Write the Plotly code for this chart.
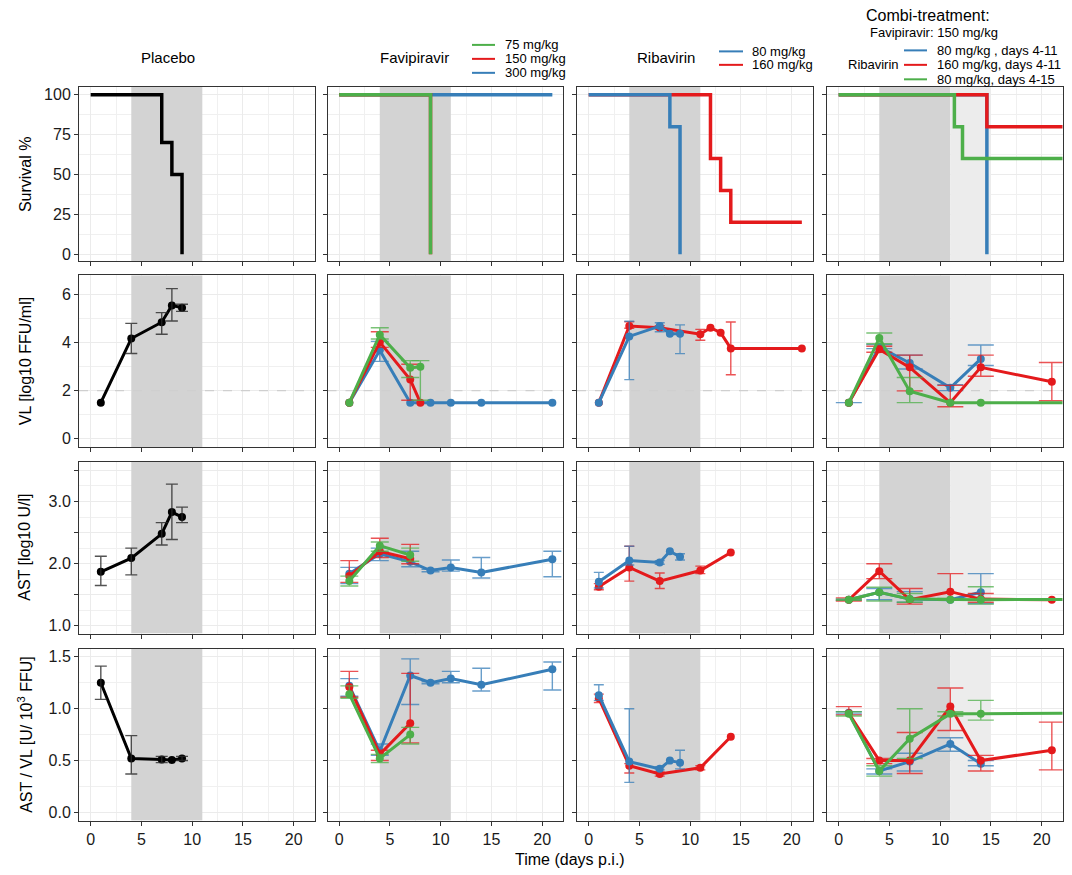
import plotly.graph_objects as go

W, H = 1072, 875
RED = "#E41A1C"
BLUE = "#377EB8"
GREEN = "#4DAF4A"
BLACK = "#000000"
FONT = "Liberation Sans, Arial, Helvetica, sans-serif"

# ---------------- DATA ----------------
# Placebo
plc_surv_days = [0, 7, 8, 9]
plc_surv = [100, 70, 50, 0]
plc_days = [1, 4, 7, 8, 9]
plc_vl = [1.5, 4.17, 4.85, 5.55, 5.45]
plc_vl_lo = [None, 3.55, 4.35, 4.9, 5.3]
plc_vl_hi = [None, 4.8, 5.25, 6.25, 5.6]
plc_ast = [1.87, 2.09, 2.48, 2.83, 2.75]
plc_ast_lo = [1.65, 1.82, 2.3, 2.39, 2.66]
plc_ast_hi = [2.12, 2.25, 2.66, 3.28, 2.91]
plc_ratio = [1.25, 0.52, 0.51, 0.505, 0.52]
plc_ratio_lo = [1.09, 0.37, 0.48, None, 0.5]
plc_ratio_hi = [1.41, 0.74, 0.54, None, 0.54]

# Favipiravir: 75 (green), 150 (red), 300 (blue) mg/kg
fav75_surv_days = [0, 9]
fav75_surv = [100, 0]
fav150_surv_days = [0, 9]
fav150_surv = [100, 0]
fav300_surv_days = [0, 21]
fav300_surv = [100, 100]

fav75_days = [1, 4, 7, 8]
fav75_vl = [1.5, 4.33, 2.95, 3.0]
fav75_vl_lo = [None, 4.15, 2.55, 1.6]
fav75_vl_hi = [None, 4.62, 3.25, 3.25]
fav75_ast_days = [1, 4, 7]
fav75_ast = [1.72, 2.29, 2.14]
fav75_ast_lo = [1.64, 2.2, 2.04]
fav75_ast_hi = [1.8, 2.35, 2.25]
fav75_ratio = [1.14, 0.52, 0.75]
fav75_ratio_lo = [1.1, 0.48, 0.66]
fav75_ratio_hi = [1.22, 0.56, 0.82]

fav150_days = [1, 4, 7, 8]
fav150_vl = [1.5, 4.02, 2.46, 1.5]
fav150_vl_lo = [None, 3.8, 1.6, None]
fav150_vl_hi = [None, 4.45, 3.1, None]
fav150_ast_days = [1, 4, 7]
fav150_ast = [1.8, 2.2, 2.08]
fav150_ast_lo = [1.7, 2.1, 2.0]
fav150_ast_hi = [2.05, 2.41, 2.31]
fav150_ratio = [1.21, 0.56, 0.86]
fav150_ratio_lo = [1.11, 0.5, 0.67]
fav150_ratio_hi = [1.36, 0.6, 1.34]

fav300_days = [1, 4, 7, 9, 11, 14, 21]
fav300_vl = [1.5, 3.68, 1.5, 1.5, 1.5, 1.5, 1.5]
fav300_vl_lo = [None, 3.22, None, None, None, None, None]
fav300_vl_hi = [None, 4.05, 2.0, None, None, None, None]
fav300_ast = [1.84, 2.16, 2.03, 1.89, 1.94, 1.86, 2.07]
fav300_ast_lo = [1.68, 2.05, 1.95, 1.87, 1.88, 1.77, 1.79]
fav300_ast_hi = [1.94, 2.25, 2.2, 1.91, 2.06, 2.1, 2.2]
fav300_ratio = [1.22, 0.59, 1.32, 1.25, 1.29, 1.23, 1.38]
fav300_ratio_lo = [1.12, 0.55, 1.04, 1.24, 1.25, 1.17, 1.18]
fav300_ratio_hi = [1.29, 0.66, 1.48, 1.26, 1.36, 1.39, 1.45]

# Ribavirin: 80 (blue), 160 (red) mg/kg
rib80_surv_days = [0, 8, 9]
rib80_surv = [100, 80, 0]
rib160_surv_days = [0, 12, 13, 14, 21]
rib160_surv = [100, 60, 40, 20, 20]

rib80_days = [1, 4, 7, 8, 9]
rib80_vl = [1.5, 4.26, 4.69, 4.37, 4.37]
rib80_vl_lo = [None, 2.46, 4.45, None, 3.54]
rib80_vl_hi = [None, 4.89, 4.83, None, 4.74]
rib80_ast = [1.71, 2.05, 2.02, 2.2, 2.11]
rib80_ast_lo = [1.61, 1.98, 1.99, None, 2.06]
rib80_ast_hi = [1.86, 2.28, 2.05, None, 2.16]
rib80_ratio = [1.13, 0.49, 0.42, 0.5, 0.48]
rib80_ratio_lo = [1.08, 0.29, 0.41, None, 0.42]
rib80_ratio_hi = [1.23, 1.0, 0.44, None, 0.6]

rib160_vl_days = [1, 4, 7, 11, 12, 13, 14, 21]
rib160_vl = [1.5, 4.69, 4.62, 4.35, 4.62, 4.41, 3.76, 3.76]
rib160_vl_lo = [None, 4.6, 4.55, 4.1, None, None, 2.66, None]
rib160_vl_hi = [None, 4.87, 4.7, 4.55, None, None, 4.86, None]
rib160_days = [1, 4, 7, 11, 14]
rib160_ast = [1.63, 1.94, 1.72, 1.89, 2.18]
rib160_ast_lo = [1.58, 1.72, 1.6, 1.84, None]
rib160_ast_hi = [1.68, 2.28, 1.85, 1.96, None]
rib160_ratio = [1.1, 0.45, 0.37, 0.43, 0.73]
rib160_ratio_lo = [1.06, 0.38, 0.35, 0.41, None]
rib160_ratio_hi = [1.14, 0.47, 0.39, 0.45, None]

# Combi-treatment (Favipiravir 150 mg/kg + Ribavirin)
cb80_surv_days = [0, 14.6]
cb80_surv = [100, 0]
cb160_surv_days = [0, 14.6, 28]
cb160_surv = [100, 80, 80]
cb80l_surv_days = [0, 11.4, 12.2, 28]
cb80l_surv = [100, 80, 60, 60]

cb80_days = [1, 4, 7, 11, 14]
cb80_vl = [1.5, 3.82, 3.15, 2.12, 3.32]
cb80_vl_lo = [1.5, 3.75, 2.9, 2.0, 3.05]
cb80_vl_hi = [1.5, 3.92, 3.48, 2.25, 3.9]
cb80_ast = [1.42, 1.54, 1.43, 1.42, 1.54]
cb80_ast_lo = [1.41, 1.42, 1.38, 1.41, 1.36]
cb80_ast_hi = [1.43, 1.6, 1.55, 1.43, 1.84]
cb80_ratio = [0.96, 0.4, 0.49, 0.66, 0.47]
cb80_ratio_lo = [0.95, 0.37, 0.4, 0.59, 0.45]
cb80_ratio_hi = [0.97, 0.42, 0.57, 0.72, 0.5]

cb160_days = [1, 4, 7, 11, 14, 21]
cb160_vl = [1.5, 3.72, 2.97, 1.5, 2.97, 2.37]
cb160_vl_lo = [None, 3.6, 1.99, 1.33, 2.6, 1.58]
cb160_vl_hi = [None, 3.85, 3.48, 2.22, 3.48, 3.17]
cb160_ast = [1.42, 1.88, 1.42, 1.55, 1.43, 1.42]
cb160_ast_lo = [1.4, 1.76, 1.35, 1.42, 1.38, None]
cb160_ast_hi = [1.45, 2.0, 1.6, 1.84, 1.52, None]
cb160_ratio = [0.955, 0.5, 0.5, 1.02, 0.5, 0.6]
cb160_ratio_lo = [0.94, 0.47, 0.375, 0.79, 0.4, 0.41]
cb160_ratio_hi = [1.02, 0.52, 0.77, 1.2, 0.55, 0.87]

cb80l_days = [1, 4, 7, 11, 14, 28]
cb80l_vl = [1.5, 4.19, 1.98, 1.5, 1.5, 1.5]
cb80l_vl_lo = [None, 3.95, 1.5, None, None, None]
cb80l_vl_hi = [None, 4.4, 2.55, None, None, None]
cb80l_ast = [1.42, 1.54, 1.43, 1.42, 1.42, 1.43]
cb80l_ast_lo = [1.41, 1.4, 1.38, 1.41, 1.35, None]
cb80l_ast_hi = [1.43, 1.62, 1.52, 1.44, 1.63, None]
cb80l_ratio = [0.95, 0.4, 0.71, 0.95, 0.95, 0.96]
cb80l_ratio_lo = [0.93, 0.35, 0.52, 0.93, 0.89, None]
cb80l_ratio_hi = [0.97, 0.45, 1.0, 0.97, 1.08, None]

# treatment windows (days) and limit of detection
treat_window = [4, 11]
combi_extra_window = [11, 15]
vl_lod = 2

x_ticks = [0, 5, 10, 15, 20]
col_titles = ["Placebo", "Favipiravir", "Ribavirin"]
row_titles = ["Survival %", "VL [log10 FFU/ml]", "AST [log10 U/l]",
              "AST / VL [U/ 10<sup>3</sup> FFU]"]

# ---------------- LAYOUT GEOMETRY ----------------
col_px = [(79, 314.5), (327.5, 563), (577, 812.5), (827, 1062.5)]
row_px = [(86, 261), (275, 447), (462, 634), (649.5, 821.5)]
x_range = [-1.15, 22.05]
y_ranges = [[-4.5, 105], [-0.345, 6.80], [0.876, 3.637], [-0.079, 1.575]]
caps = [6, 9, 5, 13]

fig = go.Figure()


def ax_ids(n):
    return ("x" if n == 1 else f"x{n}"), ("y" if n == 1 else f"y{n}")


def rgba(hexc, a):
    hexc = hexc.lstrip("#")
    r, g, b = int(hexc[0:2], 16), int(hexc[2:4], 16), int(hexc[4:6], 16)
    return f"rgba({r},{g},{b},{a})"


# background shading + LOD line as traces (drawn above grid, below data)
for r in range(4):
    for c in range(4):
        n = r * 4 + c + 1
        xa, ya = ax_ids(n)
        lo_y, hi_y = y_ranges[r]
        windows = [(treat_window, "#D3D3D3")]
        if c == 3:
            windows.append((combi_extra_window, "#ECECEC"))
        for (a, b), col in windows:
            fig.add_trace(go.Scatter(
                x=[a, b, b, a, a], y=[lo_y, lo_y, hi_y, hi_y, lo_y],
                mode="lines", fill="toself", fillcolor=col,
                line=dict(width=0, color=col), xaxis=xa, yaxis=ya,
                showlegend=False, hoverinfo="skip"))
        if r == 1:
            fig.add_trace(go.Scatter(
                x=x_range, y=[vl_lod, vl_lod], mode="lines",
                line=dict(color="#CFCFCF", width=1.2, dash="dash"),
                xaxis=xa, yaxis=ya, showlegend=False, hoverinfo="skip"))


def add_series(r, c, days, vals, lo, hi, color):
    n = r * 4 + c + 1
    xa, ya = ax_ids(n)
    fig.add_trace(go.Scatter(
        x=days, y=vals, mode="lines+markers", xaxis=xa, yaxis=ya,
        line=dict(color=color, width=3), marker=dict(color=color, size=8),
        cliponaxis=True, showlegend=False, hoverinfo="skip"))
    if lo is not None:
        idx = [i for i in range(len(days)) if lo[i] is not None]
        if idx:
            ecol = "rgba(40,40,40,0.8)" if color == BLACK else rgba(color, 0.75)
            fig.add_trace(go.Scatter(
                x=[days[i] for i in idx], y=[vals[i] for i in idx],
                mode="markers", xaxis=xa, yaxis=ya,
                marker=dict(color="rgba(0,0,0,0)", size=1),
                error_y=dict(type="data", symmetric=False,
                             array=[hi[i] - vals[i] for i in idx],
                             arrayminus=[vals[i] - lo[i] for i in idx],
                             color=ecol, thickness=1.4, width=caps[c]),
                cliponaxis=True, showlegend=False, hoverinfo="skip"))


def add_surv(c, days, vals, color):
    n = c + 1
    xa, ya = ax_ids(n)
    fig.add_trace(go.Scatter(
        x=days, y=vals, mode="lines", xaxis=xa, yaxis=ya,
        line=dict(color=color, width=3.5, shape="hv"),
        cliponaxis=True, showlegend=False, hoverinfo="skip"))


# Survival row
add_surv(0, plc_surv_days, plc_surv, BLACK)
add_surv(1, fav300_surv_days, fav300_surv, BLUE)
add_surv(1, fav150_surv_days, fav150_surv, RED)
add_surv(1, fav75_surv_days, fav75_surv, GREEN)
add_surv(2, rib160_surv_days, rib160_surv, RED)
add_surv(2, rib80_surv_days, rib80_surv, BLUE)
add_surv(3, cb80_surv_days, cb80_surv, BLUE)
add_surv(3, cb160_surv_days, cb160_surv, RED)
add_surv(3, cb80l_surv_days, cb80l_surv, GREEN)

# VL row
add_series(1, 0, plc_days, plc_vl, plc_vl_lo, plc_vl_hi, BLACK)
add_series(1, 1, fav300_days, fav300_vl, fav300_vl_lo, fav300_vl_hi, BLUE)
add_series(1, 1, fav150_days, fav150_vl, fav150_vl_lo, fav150_vl_hi, RED)
add_series(1, 1, fav75_days, fav75_vl, fav75_vl_lo, fav75_vl_hi, GREEN)
add_series(1, 2, rib160_vl_days, rib160_vl, rib160_vl_lo, rib160_vl_hi, RED)
add_series(1, 2, rib80_days, rib80_vl, rib80_vl_lo, rib80_vl_hi, BLUE)
add_series(1, 3, cb80_days, cb80_vl, cb80_vl_lo, cb80_vl_hi, BLUE)
add_series(1, 3, cb160_days, cb160_vl, cb160_vl_lo, cb160_vl_hi, RED)
add_series(1, 3, cb80l_days, cb80l_vl, cb80l_vl_lo, cb80l_vl_hi, GREEN)

# AST row
add_series(2, 0, plc_days, plc_ast, plc_ast_lo, plc_ast_hi, BLACK)
add_series(2, 1, fav300_days, fav300_ast, fav300_ast_lo, fav300_ast_hi, BLUE)
add_series(2, 1, fav150_ast_days, fav150_ast, fav150_ast_lo, fav150_ast_hi, RED)
add_series(2, 1, fav75_ast_days, fav75_ast, fav75_ast_lo, fav75_ast_hi, GREEN)
add_series(2, 2, rib160_days, rib160_ast, rib160_ast_lo, rib160_ast_hi, RED)
add_series(2, 2, rib80_days, rib80_ast, rib80_ast_lo, rib80_ast_hi, BLUE)
add_series(2, 3, cb80_days, cb80_ast, cb80_ast_lo, cb80_ast_hi, BLUE)
add_series(2, 3, cb160_days, cb160_ast, cb160_ast_lo, cb160_ast_hi, RED)
add_series(2, 3, cb80l_days, cb80l_ast, cb80l_ast_lo, cb80l_ast_hi, GREEN)

# AST / VL row
add_series(3, 0, plc_days, plc_ratio, plc_ratio_lo, plc_ratio_hi, BLACK)
add_series(3, 1, fav300_days, fav300_ratio, fav300_ratio_lo, fav300_ratio_hi, BLUE)
add_series(3, 1, fav150_ast_days, fav150_ratio, fav150_ratio_lo, fav150_ratio_hi, RED)
add_series(3, 1, fav75_ast_days, fav75_ratio, fav75_ratio_lo, fav75_ratio_hi, GREEN)
add_series(3, 2, rib160_days, rib160_ratio, rib160_ratio_lo, rib160_ratio_hi, RED)
add_series(3, 2, rib80_days, rib80_ratio, rib80_ratio_lo, rib80_ratio_hi, BLUE)
add_series(3, 3, cb80_days, cb80_ratio, cb80_ratio_lo, cb80_ratio_hi, BLUE)
add_series(3, 3, cb160_days, cb160_ratio, cb160_ratio_lo, cb160_ratio_hi, RED)
add_series(3, 3, cb80l_days, cb80l_ratio, cb80l_ratio_lo, cb80l_ratio_hi, GREEN)

# ---------------- AXES ----------------
GRID = "#EBEBEB"
MINOR = "#F0F0F0"
shapes = []
layout_axes = {}
for r in range(4):
    for c in range(4):
        n = r * 4 + c + 1
        xa, ya = ax_ids(n)
        xkey = "xaxis" if n == 1 else f"xaxis{n}"
        ykey = "yaxis" if n == 1 else f"yaxis{n}"
        x0, x1 = col_px[c]
        yt, yb = row_px[r]
        layout_axes[xkey] = dict(
            domain=[x0 / W, x1 / W], anchor=ya, range=x_range,
            tickmode="array", tickvals=x_ticks,
            ticktext=[str(t) for t in x_ticks] if r == 3 else [" "] * len(x_ticks),
            showgrid=True, gridcolor=GRID, gridwidth=1, zeroline=False,
            minor=dict(tickmode="array", tickvals=[2.5, 7.5, 12.5, 17.5],
                       showgrid=True, gridcolor=MINOR, gridwidth=1),
            showline=True, linecolor="#333333", linewidth=1, mirror=True,
            ticks="outside", ticklen=4, tickcolor="#333333",
            tickfont=dict(size=16, color="#1a1a1a", family=FONT),
            fixedrange=True)
        if r == 0:
            tv = [0, 25, 50, 75, 100]
            tt = [str(v) for v in tv]
            mv = [12.5, 37.5, 62.5, 87.5]
        elif r == 1:
            tv = [0, 2, 4, 6]
            tt = [str(v) for v in tv]
            mv = [1, 3, 5]
        elif r == 2:
            tv = [1.0, 1.5, 2.0, 2.5, 3.0, 3.5]
            tt = ["1.0", " ", "2.0", " ", "3.0", " "]
            mv = [1.25, 1.75, 2.25, 2.75, 3.25]
        else:
            tv = [0.0, 0.5, 1.0, 1.5]
            tt = ["0.0", "0.5", "1.0", "1.5"]
            mv = [0.25, 0.75, 1.25]
        layout_axes[ykey] = dict(
            domain=[1 - yb / H, 1 - yt / H], anchor=xa, range=y_ranges[r],
            tickmode="array", tickvals=tv,
            ticktext=tt if c == 0 else [" "] * len(tv),
            showgrid=True, gridcolor=GRID, gridwidth=1, zeroline=False,
            minor=dict(tickmode="array", tickvals=mv, showgrid=True,
                       gridcolor=MINOR, gridwidth=1),
            showline=True, linecolor="#333333", linewidth=1, mirror=True,
            ticks="outside", ticklen=4, tickcolor="#333333",
            tickfont=dict(size=16, color="#1a1a1a", family=FONT),
            fixedrange=True)

# ---------------- TEXT & LEGENDS ----------------
annotations = []


def px_ann(text, x, y, size, xanchor="center", angle=0):
    annotations.append(dict(text=text, x=x / W, y=1 - y / H, xref="paper",
                            yref="paper", showarrow=False, xanchor=xanchor,
                            yanchor="middle", textangle=angle,
                            font=dict(size=size, color="#000000", family=FONT)))


def px_line(x0, x1, y, color):
    shapes.append(dict(type="line", xref="paper", yref="paper",
                       x0=x0 / W, x1=x1 / W, y0=1 - y / H, y1=1 - y / H,
                       line=dict(color=color, width=2), layer="above"))


px_ann(col_titles[0], 168, 57, 15)
px_ann(col_titles[1], 414, 57, 15)
px_ann(col_titles[2], 666, 57, 15)

# Favipiravir legend
fav_labels = ["75 mg/kg", "150 mg/kg", "300 mg/kg"]
for lab, col, yy in zip(fav_labels, [GREEN, RED, BLUE], [44, 58, 72]):
    px_line(472, 495, yy, col)
    px_ann(lab, 503, yy, 13, xanchor="left")

# Ribavirin legend
rib_labels = ["80 mg/kg", "160 mg/kg"]
for lab, col, yy in zip(rib_labels, [BLUE, RED], [50.5, 64]):
    px_line(719, 743, yy, col)
    px_ann(lab, 750, yy, 13, xanchor="left")

# Combi legend
px_ann("Combi-treatment:", 928, 15, 16)
px_ann("Favipiravir: 150 mg/kg", 934, 32, 13)
px_ann("Ribavirin", 873, 64, 13)
cb_labels = ["80 mg/kg , days 4-11", "160 mg/kg, days 4-11", "80 mg/kg, days 4-15"]
for lab, col, yy in zip(cb_labels, [BLUE, RED, GREEN], [49.5, 64, 78.5]):
    px_line(904, 927, yy, col)
    px_ann(lab, 935, yy, 13, xanchor="left")

# Axis titles
for r, t in enumerate(row_titles):
    yt, yb = row_px[r]
    px_ann(t, 25, (yt + yb) / 2, 16, angle=-90)
px_ann("Time (days p.i.)", 570, 860, 16)

fig.update_layout(
    width=W, height=H, margin=dict(l=0, r=0, t=0, b=0),
    paper_bgcolor="white", plot_bgcolor="white",
    showlegend=False, hovermode=False,
    font=dict(family=FONT, color="#000000"),
    shapes=shapes, annotations=annotations,
    **layout_axes)

fig.write_html("out.html", config={"displayModeBar": False},
               post_script="document.body.style.margin='0';document.body.style.padding='0';")
